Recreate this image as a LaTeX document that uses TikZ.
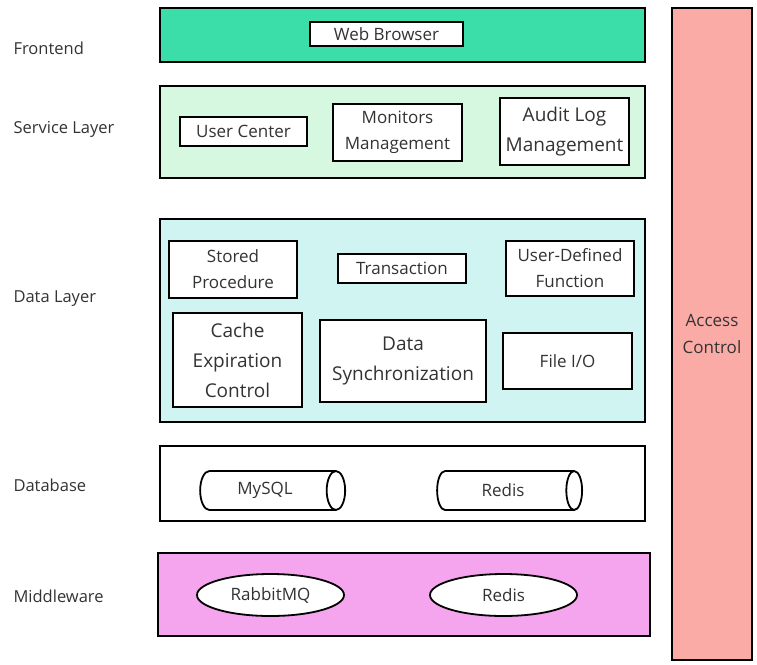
\documentclass[tikz,border=0pt]{standalone}
\usepackage{fontspec}
\setmainfont{Open Sans}
\usetikzlibrary{shapes.geometric,positioning}
\definecolor{frontend-green}{HTML}{3BDEA9}
\definecolor{service-green}{HTML}{D6F7E0}
\definecolor{data-cyan}{HTML}{D0F4F2}
\definecolor{middle-pink}{HTML}{F5A4EE}
\definecolor{access-red}{HTML}{FAABA6}
\definecolor{label-gray}{HTML}{333333}
\tikzset{
  band/.style={draw=black, line width=2.4pt, minimum width=485, minimum height=#1},
  box/.style={draw=black, line width=2.2pt, fill=white, align=center, inner sep=2pt,
    text=label-gray, font=\fontsize{17}{26}\selectfont},
  bigbox/.style={box, font=\fontsize{19}{30}\selectfont},
  layerlabel/.style={anchor=west, text=label-gray, font=\fontsize{16.5}{20}\selectfont},
  dbstore/.style={cylinder, draw=black, line width=1.8pt, fill=white, aspect=0.8,
    shape border rotate=0, text=label-gray, font=\fontsize{17}{20}\selectfont},
  mqstore/.style={ellipse, draw=black, line width=1.8pt, fill=white,
    minimum width=147, minimum height=42, text=label-gray, font=\fontsize{17}{20}\selectfont}
}

\begin{document}
\begin{tikzpicture}[x=1pt, y=-1pt]
    \useasboundingbox (0,0) rectangle (757,664);

    % layer names
    \node[layerlabel] (lfront) at (10, 48) {Frontend};
    \node[layerlabel] (lserv) at (10, 129) {Service Layer};
    \node[layerlabel] (ldata) at (10, 299) {Data Layer};
    \node[layerlabel] (ldb) at (10, 485) {Database};
    \node[layerlabel] (lmid) at (10, 596) {Middleware};

    % bands
    \node[band=54, fill=frontend-green] (frontend) at (402.5, 35) {};
    \node[band=92, fill=service-green] (service) at (402.5, 132) {};
    \node[band=203, fill=data-cyan] (data) at (402.5, 320.5) {};
    \node[band=75, fill=white] (database) at (402.5, 483.5) {};
    \node[band=83, fill=middle-pink, minimum width=492] (middleware) at (404, 594.5) {};

    \node[draw=black, line width=2.4pt, fill=access-red, minimum width=80, minimum height=652,
      align=center, text=label-gray, font=\fontsize{17}{27}\selectfont] (access) at (712, 334) {Access\\Control};

    % frontend
    \node[box, minimum width=153, minimum height=24] (browser) at (386.5, 34) {Web Browser};

    % service layer
    \node[box, minimum width=127, minimum height=29] (usercenter) at (243.5, 131.5) {User Center};
    \node[box, minimum width=129, minimum height=57] (monitors) at (397.5, 132.5) {Monitors\\Management};
    \node[bigbox, minimum width=129, minimum height=67] (auditlog) at (564.5, 131.5) {Audit Log\\Management};

    % data layer
    \node[box, minimum width=128, minimum height=57] (storedproc) at (233, 269.5) {Stored\\Procedure};
    \node[box, minimum width=128, minimum height=29] (transaction) at (402, 268.5) {Transaction};
    \node[box, minimum width=128, minimum height=55] (udf) at (570, 268.5) {User-Defined\\Function};
    \node[bigbox, minimum width=129, minimum height=94] (cache) at (237.5, 360) {Cache\\Expiration\\Control};
    \node[bigbox, minimum width=166, minimum height=82] (datasync) at (403, 361) {Data\\Synchronization};
    \node[box, minimum width=129, minimum height=56] (fileio) at (567.5, 361) {File I/O};

    % database
    \node[dbstore, minimum width=39, minimum height=145] (mysql) at (265, 490.5) {MySQL};
    \node[dbstore, minimum width=39, minimum height=145] (redisdb) at (503, 490.5) {Redis};

    % middleware
    \node[mqstore] (rabbitmq) at (270.5, 595) {RabbitMQ};
    \node[mqstore] (redismq) at (503.5, 595) {Redis};
\end{tikzpicture}
\end{document}
